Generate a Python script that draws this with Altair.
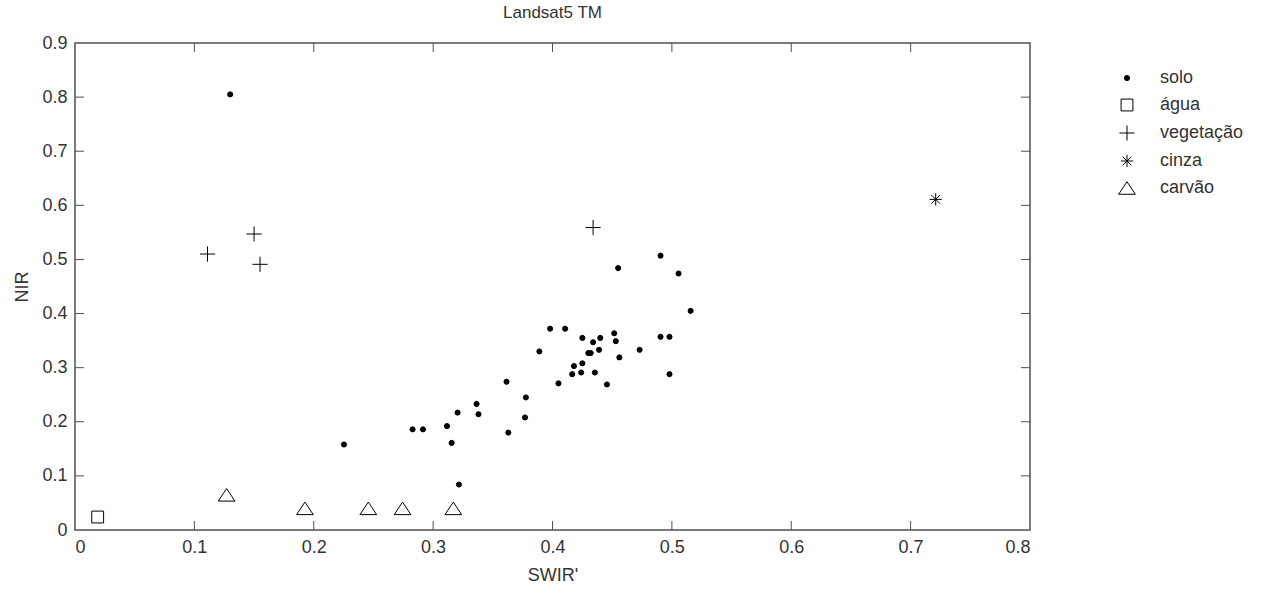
import altair as alt
import pandas as pd

# ---- data ----
solo_x = [0.130, 0.2253, 0.2828, 0.2915, 0.3116, 0.3155, 0.3205, 0.3216, 0.3364, 0.338,
          0.3615, 0.363, 0.377, 0.3777, 0.389, 0.398, 0.405, 0.4106, 0.4165, 0.418,
          0.424, 0.425, 0.425, 0.430, 0.432, 0.434, 0.4355, 0.439, 0.440, 0.4456,
          0.4517, 0.453, 0.455, 0.456, 0.473, 0.4905, 0.4905, 0.498, 0.498, 0.5056, 0.5157]
solo_y = [0.805, 0.158, 0.186, 0.186, 0.192, 0.161, 0.217, 0.084, 0.233, 0.214,
          0.274, 0.180, 0.208, 0.245, 0.330, 0.372, 0.271, 0.372, 0.288, 0.303,
          0.291, 0.308, 0.355, 0.327, 0.327, 0.347, 0.291, 0.333, 0.355, 0.269,
          0.3635, 0.349, 0.484, 0.319, 0.333, 0.507, 0.357, 0.357, 0.288, 0.474, 0.405]
agua_x = [0.019]
agua_y = [0.024]
veg_x = [0.111, 0.150, 0.155, 0.434]
veg_y = [0.510, 0.547, 0.491, 0.559]
cinza_x = [0.721]
cinza_y = [0.611]
carvao_x = [0.127, 0.1926, 0.2457, 0.2744, 0.3169]
carvao_y = [0.065, 0.040, 0.040, 0.040, 0.040]

classes = ["solo", "água", "vegetação", "cinza", "carvão"]
x_ticks = [0, 0.1, 0.2, 0.3, 0.4, 0.5, 0.6, 0.7, 0.8]
y_ticks = [0, 0.1, 0.2, 0.3, 0.4, 0.5, 0.6, 0.7, 0.8, 0.9]
inner_x_ticks = [0.1, 0.2, 0.3, 0.4, 0.5, 0.6, 0.7]
inner_y_ticks = [0.1, 0.2, 0.3, 0.4, 0.5, 0.6, 0.7, 0.8]

rows = []
for cls, xs, ys in [("solo", solo_x, solo_y), ("água", agua_x, agua_y),
                    ("vegetação", veg_x, veg_y), ("cinza", cinza_x, cinza_y),
                    ("carvão", carvao_x, carvao_y)]:
    for a, b in zip(xs, ys):
        rows.append({"SWIR": a, "NIR": b, "classe": cls})
df = pd.DataFrame(rows)

W, H = 955, 487
FONT = "Liberation Sans"
TXT = "#333333"
LINE = "#505050"

xscale = alt.Scale(domain=[0, 0.8], nice=False, zero=False)
yscale = alt.Scale(domain=[0, 0.9], nice=False, zero=False)

plus = "M-1,0L1,0M0,-1L0,1"
star = "M-1,0L1,0M0,-1L0,1M-0.7,-0.7L0.7,0.7M-0.7,0.7L0.7,-0.7"
tri = "M0,-0.75L1,0.75L-1,0.75Z"

points = alt.Chart(df).mark_point(strokeWidth=1, opacity=1, filled=False).encode(
    x=alt.X("SWIR:Q", scale=xscale,
            axis=alt.Axis(values=x_ticks, format="~g", ticks=False, domain=False, grid=False,
                          labelPadding=8, title="SWIR'", titlePadding=10)),
    y=alt.Y("NIR:Q", scale=yscale,
            axis=alt.Axis(values=y_ticks, format="~g", ticks=False, domain=False, grid=False,
                          labelPadding=8, title="NIR", titlePadding=10)),
    shape=alt.Shape("classe:N", sort=classes,
                    scale=alt.Scale(domain=classes, range=["circle", "square", plus, star, tri]),
                    legend=alt.Legend(title=None)),
    fill=alt.Fill("classe:N", sort=classes,
                  scale=alt.Scale(domain=classes, range=["black", "transparent", "transparent", "transparent", "transparent"]),
                  legend=alt.Legend(title=None)),
    stroke=alt.Stroke("classe:N", sort=classes,
                      scale=alt.Scale(domain=classes, range=["black", "black", "black", "black", "black"]),
                      legend=alt.Legend(title=None)),
    size=alt.Size("classe:N", sort=classes,
                  scale=alt.Scale(type="ordinal", domain=classes, range=[26, 140, 230, 150, 280]),
                  legend=alt.Legend(title=None)),
)

xt = pd.DataFrame({"t": inner_x_ticks})
yt = pd.DataFrame({"t": inner_y_ticks})
TL = 9
bot_ticks = alt.Chart(xt).mark_rule(color=LINE, strokeWidth=1).encode(
    x=alt.X("t:Q", scale=xscale), y=alt.value(H), y2=alt.value(H - TL))
top_ticks = alt.Chart(xt).mark_rule(color=LINE, strokeWidth=1).encode(
    x=alt.X("t:Q", scale=xscale), y=alt.value(0), y2=alt.value(TL))
left_ticks = alt.Chart(yt).mark_rule(color=LINE, strokeWidth=1).encode(
    y=alt.Y("t:Q", scale=yscale), x=alt.value(0), x2=alt.value(TL))
right_ticks = alt.Chart(yt).mark_rule(color=LINE, strokeWidth=1).encode(
    y=alt.Y("t:Q", scale=yscale), x=alt.value(W), x2=alt.value(W - TL))

chart = alt.layer(bot_ticks, top_ticks, left_ticks, right_ticks, points).properties(
    width=W, height=H,
    title=alt.TitleParams("Landsat5 TM", fontSize=17, font=FONT, color=TXT, fontWeight="normal",
                          anchor="middle", offset=12),
    autosize=alt.AutoSizeParams(type="none"),
    padding={"left": 75, "top": 43, "right": 234, "bottom": 63},
).configure_view(
    stroke=LINE, strokeWidth=1.5
).configure_axis(
    labelFont=FONT, labelFontSize=18, labelColor=TXT,
    titleFont=FONT, titleFontSize=18, titleColor=TXT, titleFontWeight="normal",
).configure_legend(
    orient="none", legendX=1043, legendY=26, padding=0,
    labelFont=FONT, labelFontSize=18, labelColor=TXT, labelOffset=24,
    rowPadding=9, symbolStrokeColor="black", symbolStrokeWidth=1,
)

chart.save("out.html", embed_options={"renderer": "svg", "actions": False})
